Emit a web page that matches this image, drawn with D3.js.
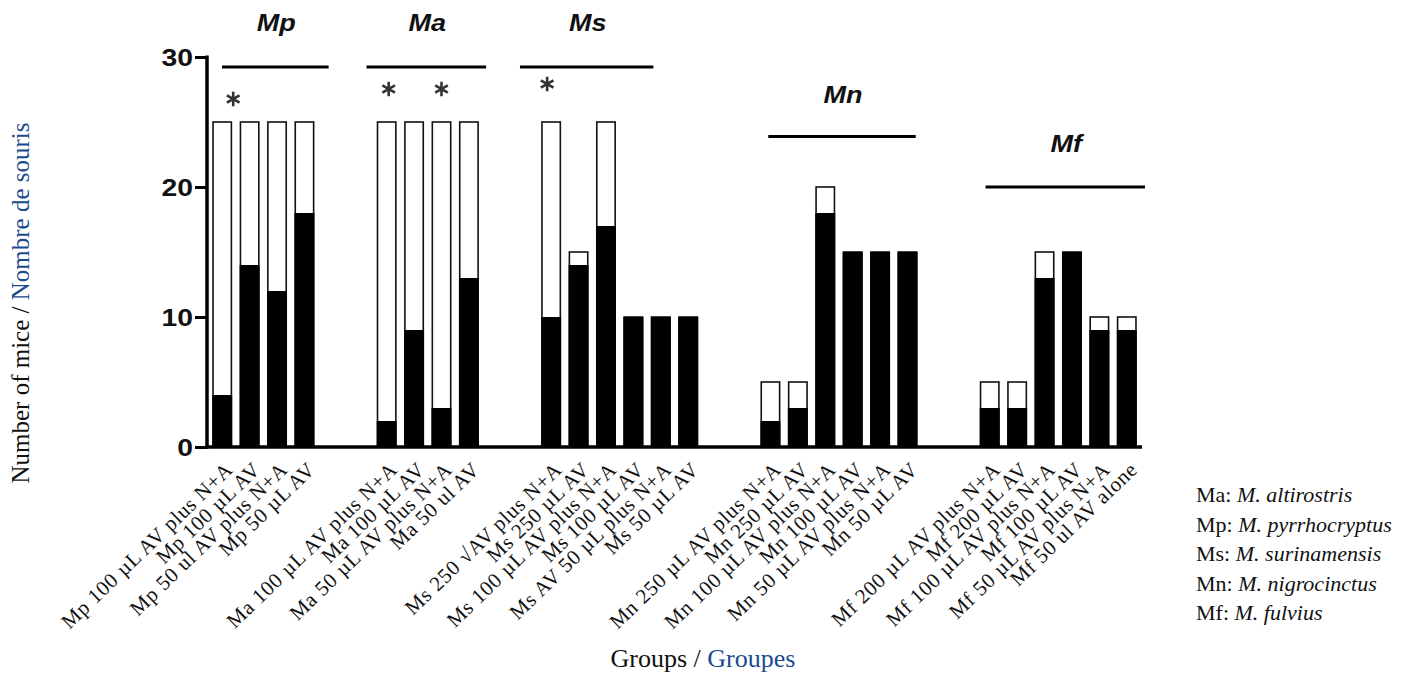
<!DOCTYPE html>
<html>
<head>
<meta charset="utf-8">
<script src="https://cdn.jsdelivr.net/npm/d3@7"></script>
<style>
  body { margin: 0; background: #fff; }
  svg { display: block; }
</style>
</head>
<body>
<svg id="chart"></svg>
<script>
const groups = ["Mp", "Ma", "Ms", "Mn", "Mf"];

const categories = [
    "Mp 100 µL AV plus N+A", "Mp 100 µL AV", "Mp 50 ul AV plus N+A", "Mp 50 µL AV",
    "Ma 100 µL AV plus N+A", "Ma 100 µL AV", "Ma 50 µL AV plus N+A", "Ma 50 ul AV",
    "Ms 250 √AV plus N+A", "Ms 250 µL AV", "Ms 100 µL AV plus N+A", "Ms 100 µL AV", "Ms AV 50 µL plus N+A", "Ms 50 µL AV",
    "Mn 250 µL AV plus N+A", "Mn 250 µL AV", "Mn 100 µL AV plus N+A", "Mn 100 µL AV", "Mn 50 µL AV plus N+A", "Mn 50 µL AV",
    "Mf 200 µL AV plus N+A", "Mf 200 µL AV", "Mf 100 µL AV plus N+A", "Mf 100 µL AV", "Mf 50 µL AV plus N+A", "Mf 50 ul AV alone"
];

// black part of each bar
const filledValues = [4, 14, 12, 18, 2, 9, 3, 13, 10, 14, 17, 10, 10, 10, 2, 3, 18, 15, 15, 15, 3, 3, 13, 15, 9, 9];
// full height of each bar
const totalValues = [25, 25, 25, 25, 25, 25, 25, 25, 25, 15, 25, 10, 10, 10, 5, 5, 20, 15, 15, 15, 5, 5, 15, 15, 10, 10];

const yTicks = [0, 10, 20, 30];

const starred = ["Mp 100 µL AV plus N+A", "Ma 100 µL AV plus N+A", "Ma 50 µL AV plus N+A", "Ms 250 √AV plus N+A"];

const legendCodes = ["Ma", "Mp", "Ms", "Mn", "Mf"];
const legendSpecies = ["M. altirostris", "M. pyrrhocryptus", "M. surinamensis", "M. nigrocinctus", "M. fulvius"];

const width = 1419, height = 675;
const blue = "#1b4b8f";

const svg = d3.select("#chart").attr("width", width).attr("height", height);

const data = categories.map((c, i) => ({
    label: c,
    group: c.split(" ")[0],
    filled: filledValues[i],
    total: totalValues[i]
}));

// two empty slots between the species groups
const slots = [];
groups.forEach((g, gi) => {
    if (gi > 0) slots.push("gap" + gi + "a", "gap" + gi + "b");
    data.filter(d => d.group === g).forEach(d => slots.push(d.label));
});

const x = d3.scaleBand()
    .domain(slots)
    .range([207, 1142])
    .paddingInner(0.33)
    .paddingOuter(0.22);

const y = d3.scaleLinear()
    .domain([0, 30])
    .range([447, 57]);

// bars: outlined white total, black filled part
const bars = svg.append("g");
bars.selectAll(".total")
    .data(data)
    .join("rect")
    .attr("class", "total")
    .attr("x", d => x(d.label))
    .attr("y", d => y(d.total))
    .attr("width", x.bandwidth())
    .attr("height", d => y(0) - y(d.total))
    .attr("fill", "#fff")
    .attr("stroke", "#111")
    .attr("stroke-width", 1.6);

bars.selectAll(".filled")
    .data(data)
    .join("rect")
    .attr("class", "filled")
    .attr("x", d => x(d.label) - 0.8)
    .attr("y", d => y(d.filled))
    .attr("width", x.bandwidth() + 1.6)
    .attr("height", d => y(0) - y(d.filled))
    .attr("fill", "#000");

// y axis
const yAxis = svg.append("g")
    .attr("transform", "translate(207,0)")
    .call(d3.axisLeft(y).tickValues(yTicks).tickSize(12).tickSizeOuter(0).tickPadding(3));
yAxis.select(".domain").attr("stroke", "#000").attr("stroke-width", 3.5)
    .attr("d", `M0,${y(30) - 1.5}V${y(0) + 1.5}`);
yAxis.selectAll(".tick line").attr("stroke", "#000").attr("stroke-width", 3);
yAxis.selectAll(".tick text")
    .attr("font-family", "Liberation Sans, Arial, sans-serif")
    .attr("font-weight", "bold")
    .attr("font-size", 24)
    .attr("fill", "#111")
    .attr("x", -14 / 1.18)
    .attr("dy", "0.36em")
    .attr("transform", "scale(1.18,1)");

// x axis with rotated category labels
const xAxis = svg.append("g")
    .attr("transform", `translate(0,${y(0)})`)
    .call(d3.axisBottom(x).tickSize(0).tickSizeOuter(0).tickFormat(s => s.startsWith("gap") ? "" : s));
xAxis.select(".domain").attr("stroke", "#000").attr("stroke-width", 3.5)
    .attr("d", "M205.5,0H1142");
xAxis.selectAll(".tick text")
    .attr("font-family", "Liberation Serif, Times New Roman, serif")
    .attr("font-size", 21)
    .attr("letter-spacing", 0.7)
    .attr("fill", "#111")
    .attr("text-anchor", "end")
    .attr("x", 0)
    .attr("y", 0)
    .attr("dy", 0)
    .attr("transform", "translate(12,24) rotate(-44)");

// species headers with bracket lines
const headerLayout = {
    Mp: { textY: 31, lineY: 67, start: 9, end: 15 },
    Ma: { textY: 31, lineY: 67, start: -11, end: 8 },
    Ms: { textY: 31, lineY: 67, start: -22, end: -44 },
    Mn: { textY: 103, lineY: 136.5, start: 7, end: -1 },
    Mf: { textY: 152, lineY: 187, start: 5, end: 9 }
};
const headers = svg.append("g");
groups.forEach(g => {
    const members = data.filter(d => d.group === g);
    const x0 = x(members[0].label) + headerLayout[g].start;
    const x1 = x(members[members.length - 1].label) + x.bandwidth() + headerLayout[g].end;
    headers.append("line")
        .attr("x1", x0).attr("x2", x1)
        .attr("y1", headerLayout[g].lineY).attr("y2", headerLayout[g].lineY)
        .attr("stroke", "#000")
        .attr("stroke-width", 2.8);
    headers.append("text")
        .attr("transform", `translate(${(x0 + x1) / 2 + 1},${headerLayout[g].textY}) scale(1.15,1)`)
        .attr("text-anchor", "middle")
        .attr("font-family", "Liberation Sans, Arial, sans-serif")
        .attr("font-weight", "bold")
        .attr("font-style", "italic")
        .attr("font-size", 23.5)
        .attr("fill", "#111")
        .text(g);
});

// significance asterisks
const starNudge = {
    "Mp 100 µL AV plus N+A": [11, -23],
    "Ma 100 µL AV plus N+A": [2, -33],
    "Ma 50 µL AV plus N+A": [0, -33],
    "Ms 250 √AV plus N+A": [-4, -38]
};
svg.append("g")
    .selectAll("path")
    .data(data.filter(d => starred.includes(d.label)))
    .join("path")
    .attr("d", d3.symbol(d3.symbolAsterisk, 150))
    .attr("transform", d => `translate(${x(d.label) + x.bandwidth() / 2 + starNudge[d.label][0]},${y(d.total) + starNudge[d.label][1]})`)
    .attr("fill", "none")
    .attr("stroke", "#333")
    .attr("stroke-width", 2.6);

// axis titles
const yTitle = svg.append("text")
    .attr("transform", "translate(29,303) rotate(-90)")
    .attr("text-anchor", "middle")
    .attr("font-family", "Liberation Serif, Times New Roman, serif")
    .attr("font-size", 25)
    .attr("fill", "#111");
yTitle.append("tspan").text("Number of mice / ");
yTitle.append("tspan").attr("fill", blue).text("Nombre de souris");

const xTitle = svg.append("text")
    .attr("x", 703)
    .attr("y", 667)
    .attr("text-anchor", "middle")
    .attr("font-family", "Liberation Serif, Times New Roman, serif")
    .attr("font-size", 26)
    .attr("fill", "#111");
xTitle.append("tspan").text("Groups / ");
xTitle.append("tspan").attr("fill", blue).text("Groupes");

// species key
const legend = svg.append("g")
    .attr("font-family", "Liberation Serif, Times New Roman, serif")
    .attr("font-size", 22)
    .attr("fill", "#111");
legendCodes.forEach((code, i) => {
    const t = legend.append("text")
        .attr("x", 1196)
        .attr("y", 502 + i * 29.5);
    t.append("tspan").text(code + ": ");
    t.append("tspan").attr("font-style", "italic").text(legendSpecies[i]);
});
</script>
</body>
</html>
